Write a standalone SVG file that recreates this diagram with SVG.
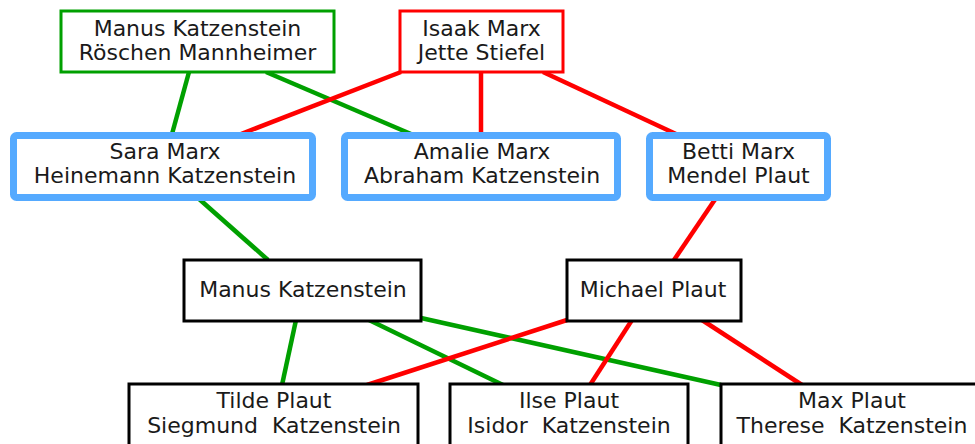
<svg xmlns="http://www.w3.org/2000/svg" width="975" height="444" viewBox="0 0 975 444">
  <style>
    text { font-family: "DejaVu Sans", "Liberation Sans", sans-serif; font-size: 22px; fill: #1a1a1a; text-anchor: middle; }
    .g { stroke: #00a000; stroke-width: 4.5; fill: none; }
    .r { stroke: #ff0000; stroke-width: 4.5; fill: none; }
    .bg { fill: #ffffff; stroke: #00a000; stroke-width: 3; }
    .br { fill: #ffffff; stroke: #ff0000; stroke-width: 3; }
    .bb { fill: #ffffff; stroke: #55aaff; stroke-width: 7; }
    .bk { fill: #ffffff; stroke: #000000; stroke-width: 3; }
  </style>
  <rect width="975" height="444" fill="#ffffff"/>
  <g id="connectors">
    <line class="g" x1="189" y1="72" x2="172" y2="134"/>
    <line class="g" x1="266" y1="72" x2="411" y2="134"/>
    <line class="r" x1="401" y1="72" x2="241" y2="134"/>
    <line class="r" x1="481" y1="72" x2="481" y2="134"/>
    <line class="r" x1="543" y1="72" x2="676" y2="134"/>
    <line class="g" x1="198" y1="198" x2="268" y2="260"/>
    <line class="r" x1="716" y1="198" x2="674" y2="260"/>
    <line class="g" x1="296" y1="320" x2="282" y2="385"/>
    <line class="g" x1="369" y1="320" x2="503" y2="385"/>
    <line class="g" x1="421" y1="318" x2="721" y2="385"/>
    <line class="r" x1="567" y1="320" x2="367" y2="385"/>
    <line class="r" x1="632" y1="320" x2="590" y2="385"/>
    <line class="r" x1="702" y1="320" x2="802" y2="385"/>
  </g>
  <g id="n-manus-roeschen">
    <rect class="bg" x="61" y="11" width="273" height="61"/>
    <text x="197.5" y="36">Manus Katzenstein</text>
    <text x="197.5" y="60">Röschen Mannheimer</text>
  </g>
  <g id="n-isaak-jette">
    <rect class="br" x="400" y="11" width="163" height="61"/>
    <text x="481.5" y="36">Isaak Marx</text>
    <text x="481.5" y="60">Jette Stiefel</text>
  </g>
  <g id="n-sara">
    <rect class="bb" x="13.5" y="135.5" width="299" height="62" rx="3"/>
    <text x="165" y="159">Sara Marx</text>
    <text x="165" y="183">Heinemann Katzenstein</text>
  </g>
  <g id="n-amalie">
    <rect class="bb" x="344.5" y="135.5" width="273" height="62" rx="3"/>
    <text x="482" y="159">Amalie Marx</text>
    <text x="482" y="183">Abraham Katzenstein</text>
  </g>
  <g id="n-betti">
    <rect class="bb" x="649.5" y="135.5" width="178" height="62" rx="3"/>
    <text x="738.5" y="159">Betti Marx</text>
    <text x="738.5" y="183">Mendel Plaut</text>
  </g>
  <g id="n-manus">
    <rect class="bk" x="184" y="260" width="237" height="61"/>
    <text x="303" y="297">Manus Katzenstein</text>
  </g>
  <g id="n-michael">
    <rect class="bk" x="567" y="260" width="174" height="61"/>
    <text x="653" y="297">Michael Plaut</text>
  </g>
  <g id="n-tilde">
    <rect class="bk" x="129" y="384" width="289" height="70"/>
    <text x="274" y="408" xml:space="preserve">Tilde Plaut</text>
    <text x="274" y="433" xml:space="preserve">Siegmund  Katzenstein</text>
  </g>
  <g id="n-ilse">
    <rect class="bk" x="450" y="384" width="238" height="70"/>
    <text x="569" y="408" xml:space="preserve">Ilse Plaut</text>
    <text x="569" y="433" xml:space="preserve">Isidor  Katzenstein</text>
  </g>
  <g id="n-max">
    <rect class="bk" x="721" y="384" width="270" height="70"/>
    <text x="852" y="408" xml:space="preserve">Max Plaut</text>
    <text x="852" y="433" xml:space="preserve">Therese  Katzenstein</text>
  </g>
</svg>
